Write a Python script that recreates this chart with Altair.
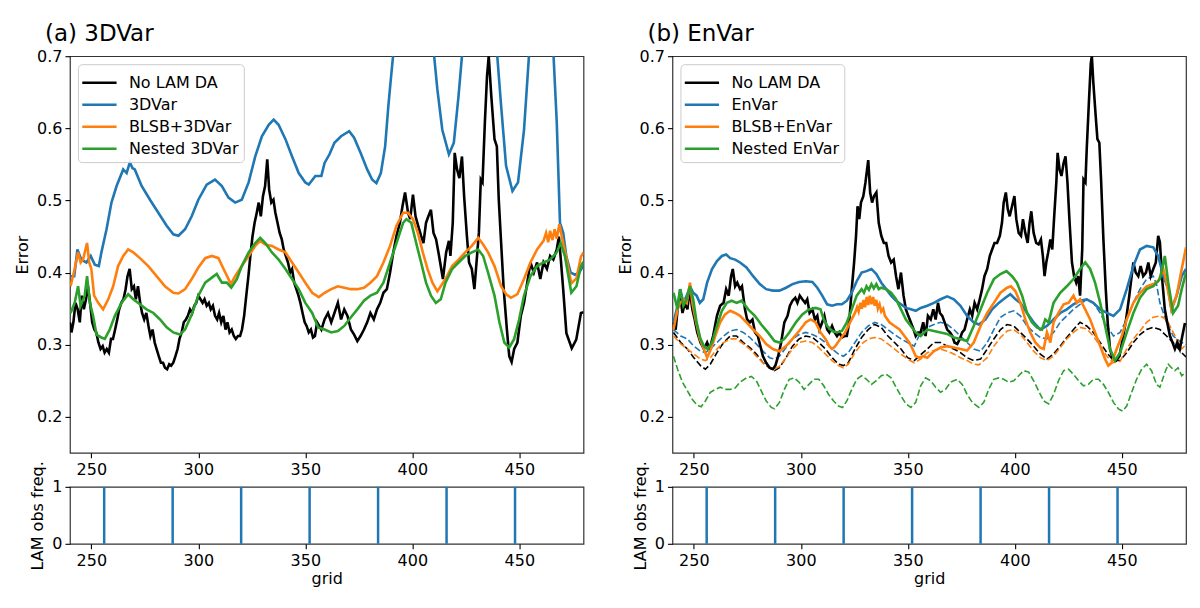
import altair as alt
import pandas as pd

# ---------------- data (grid, error) ----------------
NOLAM_A = [(240, .331), (240.7, .317), (241.6, .331), (242.6, .358), (243.6, .349), (244.6, .331), (245.5, .368),
           (246.5, .349), (247.5, .363), (248.4, .381), (249.4, .358), (250.4, .331), (251.4, .321), (252.3, .317),
           (253.3, .303), (254.3, .294), (255.3, .298), (256.2, .289), (257.2, .294), (258.2, .289), (259.2, .308),
           (260.1, .308), (261.1, .321), (262.1, .335), (263.0, .349), (264.0, .358), (265.0, .363), (266.0, .377),
           (266.9, .395), (267.9, .405), (268.9, .377), (269.9, .381), (270.8, .363), (271.8, .381), (272.8, .358),
           (273.7, .344), (274.7, .335), (275.7, .344), (276.7, .326), (277.6, .312), (278.6, .321), (279.6, .303),
           (280.5, .294), (281.5, .284), (282.5, .275), (283.5, .275), (284.4, .268), (285.4, .266), (286.4, .273),
           (287.3, .271), (288.3, .275), (289.3, .284), (290.3, .294), (291.2, .308), (292.2, .317), (293.2, .331),
           (294.2, .335), (295.1, .340), (296.1, .349), (297.1, .344), (298.1, .354), (299.0, .358), (300.0, .368),
           (301.0, .363), (302.0, .358), (302.9, .363), (303.9, .354), (304.9, .358), (305.8, .349), (306.8, .354),
           (307.8, .340), (308.8, .335), (309.7, .344), (310.7, .331), (311.7, .340), (312.7, .321), (313.6, .331),
           (314.6, .317), (315.6, .321), (316.6, .312), (317.5, .308), (318.5, .312), (319.5, .312), (320.4, .321),
           (321.4, .340), (322.4, .368), (323.4, .395), (324.3, .423), (325.3, .450), (326.3, .469), (327.3, .483),
           (328.2, .497), (329.2, .478), (330.2, .506), (331.2, .520), (332.2, .557), (333.1, .515), (334.1, .497),
           (335.1, .501), (336.0, .483), (337.0, .469), (338.0, .455), (339.0, .446), (339.9, .432), (340.9, .423),
           (341.9, .414), (342.9, .400), (343.8, .405), (344.8, .386), (345.8, .377), (346.8, .368), (347.7, .358),
           (348.7, .344), (349.7, .331), (350.6, .326), (351.6, .317), (352.6, .321), (353.6, .310), (354.5, .312),
           (355.5, .331), (357.5, .321), (359, .335), (360.6, .344), (362.1, .331), (363.6, .344), (365.2, .358),
           (366.7, .335), (368.2, .349), (369.7, .340), (371.3, .321), (372.8, .314), (374.3, .305), (375.8, .312),
           (377.4, .321), (378.9, .331), (380.4, .344), (382, .335), (383.5, .349), (385, .358), (386.5, .372),
           (388.1, .377), (389.6, .400), (391.1, .428), (392.6, .451), (394.2, .469), (395.4, .492), (396.6, .511),
           (398, .483), (399, .474), (400.3, .508), (401.5, .478), (402.7, .465), (404.1, .451), (405.2, .441),
           (406.4, .469), (407.5, .478), (408.7, .487), (409.9, .455), (411.1, .446), (412.5, .423), (414.3, .391),
           (415.8, .428), (417.1, .444), (417.8, .423), (418.9, .469), (419.8, .566), (420.9, .543), (422, .531),
           (423.2, .561), (424.2, .506), (425.5, .451), (426.5, .414), (427.8, .405), (429, .377), (430, .414),
           (431.1, .455), (432, .529), (432.8, .525), (433.9, .608), (434.9, .672), (435.7, .700), (436.9, .645),
           (438.4, .585), (439.5, .575), (440.4, .501), (441.5, .441), (442.7, .377), (444.2, .321), (445.3, .284),
           (446.4, .276), (447.6, .294), (449.1, .303), (450.7, .340), (452.2, .358), (453.7, .386), (455.2, .414),
           (456.8, .400), (458.3, .414), (459.8, .391), (461.3, .414), (462.9, .405), (464.4, .423), (465.9, .418),
           (467.5, .432), (468.5, .450), (469.5, .414), (470.5, .377), (472, .316), (474.5, .295), (476.6, .307),
           (478.8, .344), (480, .345)]

VAR3D_A = [(240.3, .395), (242, .395), (243.5, .432), (245.3, .418), (247.7, .414), (249.7, .423), (251.6, .411),
           (253.5, .409), (254.7, .428), (257.1, .460), (259.4, .497), (261.8, .520), (264.9, .543), (266.5, .538),
           (268, .553), (269.2, .545), (270.3, .543), (273.5, .520), (277.4, .501), (281.3, .483), (285.2, .465),
           (288.3, .453), (290.7, .451), (293.8, .460), (296.9, .478), (300, .501), (303.9, .522), (307.8, .529),
           (311, .520), (314.1, .504), (317.2, .497), (320.3, .501), (323.5, .525), (326.6, .561), (329.7, .589),
           (332.9, .605), (335.2, .612), (337.5, .605), (340.7, .585), (343.8, .561), (346.9, .538), (350, .525),
           (351.6, .522), (354.7, .534), (357.5, .534), (359, .552), (361.3, .564), (363.6, .580), (366.7, .589),
           (370.5, .596), (372.8, .587), (375.8, .566), (378.9, .543), (381.2, .529), (383.2, .524), (385.3, .538),
           (387.3, .575), (388.8, .631), (390.4, .682), (392, .730), (396, .850), (400, .900), (405, .840),
           (408.5, .750), (410.2, .700), (411.7, .654), (414, .598), (417.1, .564), (419.4, .580), (421.6, .645),
           (423.2, .700), (426, .780), (431, .830), (436, .780), (439.7, .700), (441.5, .631), (443.8, .548),
           (446.8, .513), (449.4, .525), (452.2, .598), (454.5, .700), (457, .770), (460.5, .800), (464, .770),
           (466, .700), (467.5, .608), (469, .469), (470.5, .455), (472, .422), (474, .400), (476, .397),
           (478, .400), (480, .410)]

BLSB_A = [(240.3, .381), (242.2, .405), (243.8, .428), (245, .414), (246.1, .418), (248, .441), (249, .414),
          (250, .405), (251.3, .368), (253.2, .358), (255.5, .349), (257.9, .363), (260.2, .381), (262.5, .409),
          (264.9, .423), (267.2, .432), (269.6, .428), (272.7, .420), (276.6, .409), (280.5, .395), (284.4, .381),
          (288.3, .372), (290.7, .371), (293.8, .377), (296.9, .391), (300, .407), (303.2, .420), (306.3, .423),
          (309.4, .420), (311.8, .405), (314.1, .391), (315.2, .384), (317.2, .395), (320.3, .409), (323.5, .423),
          (326.6, .437), (328.9, .444), (331.3, .439), (334.4, .437), (337.5, .432), (340.7, .428), (343.8, .414),
          (346.9, .400), (350, .386), (353.2, .372), (356.3, .366), (359, .372), (362.1, .377), (365.2, .381),
          (368.2, .379), (371.3, .377), (374.3, .377), (377.4, .379), (380.4, .386), (383.5, .395), (386.5, .414),
          (389.6, .437), (392.6, .465), (395.7, .483), (398, .483), (400.3, .474), (402.6, .455), (404.9, .428),
          (407.1, .405), (409.4, .386), (411.7, .374), (413.3, .381), (415.5, .391), (418.6, .409), (421.6, .418),
          (424.7, .428), (427.8, .437), (430.8, .448), (433.1, .439), (435.4, .428), (438.4, .409), (441.5, .381),
          (443.8, .370), (446.1, .365), (449.1, .370), (452.2, .391), (455.2, .414), (458.3, .432), (461.3, .444),
          (462.5, .455), (463.5, .442), (464.4, .458), (465.5, .445), (466.5, .460), (467.5, .447), (468.7, .467),
          (470.5, .441), (471.9, .422), (474.3, .385), (476.7, .392), (478.8, .422), (480, .428)]

NESTED_A = [(240.3, .344), (242.2, .358), (243.8, .381), (245, .354), (246.9, .368), (248, .395), (249.3, .358),
            (250.8, .340), (252.4, .314), (254.7, .310), (256.3, .308), (258.6, .321), (261, .340), (264.1, .358),
            (267.2, .370), (269.6, .363), (272.7, .356), (275.8, .349), (279, .344), (282.1, .335), (285.2, .324),
            (288.3, .317), (291.4, .314), (293.8, .321), (296.9, .342), (300, .368), (303.2, .386), (306.3, .393),
            (308.6, .398), (311, .386), (313.3, .386), (315.4, .379), (318, .391), (320.3, .409), (323.5, .428),
            (326.6, .441), (328.9, .448), (331.3, .441), (334.4, .428), (337.5, .418), (340.7, .405), (343.8, .391),
            (346.9, .377), (350, .358), (353.2, .344), (356, .324), (359, .321), (362.1, .317), (365.2, .319),
            (368.2, .326), (371.3, .338), (374.3, .349), (377.4, .361), (380.4, .368), (383.5, .372), (386.5, .386),
            (389.6, .414), (392.6, .441), (395.7, .469), (397.2, .474), (399.5, .469), (401.8, .441), (404.1, .414),
            (406.4, .386), (408.7, .368), (411, .358), (413.3, .363), (415.5, .386), (418.6, .405), (421.6, .414),
            (424.7, .423), (427.8, .428), (430.8, .432), (433.1, .423), (435.4, .400), (438.4, .368), (440.7, .331),
            (443, .303), (445.3, .296), (447.6, .308), (449.9, .335), (452.2, .368), (455.2, .395), (458.3, .409),
            (461.3, .414), (464.4, .418), (467.5, .428), (469.3, .441), (471.3, .423), (474.3, .372), (476.7, .381),
            (478.8, .409), (480, .415)]

NOLAM_B = [(240.5, .331), (241.5, .321), (242.4, .349), (243.6, .368), (244.7, .344), (245.8, .358), (247, .349),
           (248, .377), (249.3, .349), (250.4, .335), (251.6, .317), (253.1, .303), (254.7, .294), (256.2, .303),
           (257.4, .294), (259, .312), (260.8, .340), (262.3, .354), (263.9, .358), (265.1, .377), (266.3, .368),
           (267.4, .395), (268.2, .405), (269.3, .381), (270.3, .386), (271.6, .377), (272.5, .381), (273.9, .349),
           (274.9, .335), (276.2, .331), (277.4, .335), (278.6, .317), (279.9, .312), (281.1, .298), (282.3, .284),
           (283.8, .275), (285.4, .268), (286.9, .266), (288.1, .271), (289.4, .284), (290.8, .303), (292.3, .331),
           (293.8, .340), (294.9, .354), (296.1, .361), (297.4, .365), (298.4, .358), (299.5, .368), (300.7, .363),
           (302, .358), (303, .363), (304.1, .344), (305.4, .349), (306.6, .335), (307.7, .340), (308.7, .321),
           (310, .331), (311, .340), (312.3, .321), (313.3, .317), (314.6, .326), (315.8, .317), (316.9, .312),
           (318, .317), (319.2, .310), (320.4, .312), (321.5, .312), (322.6, .331), (323.8, .377), (324.9, .414),
           (325.8, .451), (326.5, .492), (327.3, .474), (328.1, .497), (329.2, .506), (330.2, .525), (331.5, .556),
           (332.4, .511), (333.3, .497), (334.2, .506), (335.3, .511), (336.4, .469), (337.6, .451), (338.8, .441),
           (339.9, .441), (341, .423), (342.2, .414), (343.4, .418), (344.5, .395), (345.6, .377), (346.8, .400),
           (348, .368), (349.1, .349), (350.2, .340), (351.4, .331), (352.7, .321), (353.7, .312), (354.8, .317),
           (356, .317), (357.2, .331), (358.3, .312), (359.4, .340), (360.7, .335), (361.9, .349), (363, .335),
           (364.1, .358), (365, .344), (366.1, .340), (367.2, .331), (368.4, .321), (369.7, .317), (370.8, .312),
           (371.8, .303), (373.1, .301), (374.3, .308), (375.4, .317), (376.5, .321), (377.7, .335), (379, .349),
           (380.1, .340), (381.2, .358), (382.4, .349), (383.6, .363), (384.7, .377), (385.8, .395), (387.1, .405),
           (388.3, .423), (389.4, .432), (390.5, .441), (391.7, .441), (393, .451), (394, .469), (394.8, .497),
           (395.8, .511), (396.7, .488), (397.6, .478), (398.7, .492), (399.8, .506), (400.7, .474), (401.8, .455),
           (402.9, .451), (403.8, .474), (404.9, .455), (406, .441), (406.9, .469), (407.7, .485), (408.8, .455),
           (410, .441), (411.1, .439), (412.2, .446), (413.1, .423), (413.9, .395), (414.7, .414), (415.6, .428),
           (416.6, .446), (417.5, .432), (418.4, .478), (419.4, .525), (420, .566), (420.9, .543), (421.8, .534),
           (422.8, .552), (423.7, .561), (424.6, .525), (425.6, .469), (426.7, .414), (427.7, .395), (428.7, .386),
           (429.6, .395), (430.5, .368), (431.5, .432), (432.1, .529), (433, .525), (433.6, .571), (434.6, .635),
           (435.5, .690), (436, .700), (436.7, .663), (437.8, .617), (438.6, .585), (439.5, .580), (440.3, .529),
           (441.4, .446), (442.5, .377), (443.4, .331), (444.5, .294), (445.8, .280), (447.3, .278), (448.9, .284),
           (450.4, .308), (452, .335), (453.5, .368), (454.6, .395), (455.4, .414), (456.5, .400), (457.7, .395),
           (458.8, .409), (460, .395), (461.3, .400), (462.4, .414), (463.5, .395), (464.7, .405), (465.9, .414),
           (467, .451), (467.8, .442), (469, .386), (470.1, .349), (471.2, .331), (472.5, .312), (473.7, .303),
           (474.8, .294), (475.9, .303), (477.1, .294), (478, .308), (479.5, .330)]

ENVAR_B = [(240.5, .331), (242.4, .354), (243.6, .377), (245.1, .358), (246.7, .368), (248.2, .381), (249.7, .372),
           (251.3, .368), (252.8, .358), (254.4, .363), (256.2, .386), (258.5, .405), (260.8, .416), (263.1, .423),
           (265.1, .425), (267, .420), (269.3, .418), (271.6, .414), (274.6, .407), (277.7, .395), (280.8, .384),
           (283.8, .377), (286.9, .375), (290, .375), (293.1, .379), (296.1, .384), (299.2, .387), (302.3, .388),
           (305.4, .387), (307.7, .379), (310, .368), (312.3, .356), (314.6, .354), (316.9, .356), (319.2, .356),
           (321.5, .361), (323.8, .372), (326.1, .388), (328.4, .400), (330.7, .402), (333, .405), (335.3, .398),
           (337.6, .386), (339.9, .377), (342.2, .368), (344.5, .361), (346.8, .356), (349.1, .351), (351.4, .349),
           (353.7, .347), (356, .351), (359.1, .354), (362.2, .358), (365.3, .363), (368.4, .367), (371.5, .363),
           (374.6, .354), (377.7, .340), (380.8, .331), (383.2, .328), (386.3, .335), (389.4, .349), (392.5, .358),
           (395.6, .365), (397.9, .370), (400.3, .363), (402.6, .358), (405.7, .344), (408.8, .331), (411.9, .321),
           (415, .326), (418.1, .335), (421.2, .344), (424.3, .349), (427.4, .356), (430.5, .361), (433.6, .363),
           (436.7, .358), (439.9, .349), (443, .344), (446.1, .340), (449.2, .349), (452.3, .377), (455.4, .409),
           (458.5, .432), (461.6, .437), (464.7, .435), (467, .423), (469.4, .395), (471.7, .377), (473.2, .349),
           (475.6, .368), (478, .395), (480, .405)]

BLSB_B = [(240.5, .321), (242.4, .349), (243.6, .358), (245.1, .363), (246.7, .358), (248.2, .386), (249.3, .358),
          (250.8, .335), (252.8, .308), (254.7, .294), (256.2, .282), (258, .294), (260, .312), (262.3, .331),
          (264.6, .342), (267, .347), (269.3, .344), (271.6, .340), (274.6, .331), (277.7, .321), (280.8, .312),
          (283.8, .301), (286.9, .294), (290, .291), (293.1, .298), (296.1, .308), (299.2, .319), (302.3, .331),
          (304.6, .335), (306.9, .331), (309.2, .317), (311.5, .308), (313.3, .298), (314.6, .294), (316.1, .298),
          (318.4, .308), (320.7, .317), (323, .331), (325.3, .344), (326.3, .352), (327, .346), (327.8, .358),
          (328.5, .350), (329.3, .362), (330, .352), (330.8, .366), (331.5, .355), (332.2, .368), (333, .356),
          (333.8, .366), (334.5, .354), (335.3, .362), (336, .350), (336.8, .356), (337.6, .346), (338.5, .350),
          (339.3, .340), (341.4, .331), (343.8, .326), (346.1, .321), (348.4, .312), (350.7, .303), (352.2, .294),
          (353.7, .284), (355.3, .282), (357, .284), (359.1, .282), (362.2, .291), (365.3, .296), (368.4, .298),
          (371.5, .296), (374.6, .294), (377.7, .292), (380.8, .303), (384, .326), (387.1, .344), (390.2, .358),
          (393.3, .372), (396.4, .379), (398.2, .381), (400.3, .374), (402.6, .358), (404.9, .335), (407.2, .317),
          (409.6, .303), (411.9, .296), (413.5, .294), (415, .317), (416.6, .303), (418.1, .331), (420.4, .344),
          (422.8, .356), (425.1, .358), (427.4, .368), (429, .358), (430.5, .363), (432.9, .349), (435.2, .335),
          (437.5, .317), (439.9, .298), (442.2, .280), (443.7, .271), (445.3, .275), (447.6, .294), (450, .312),
          (452.3, .335), (455.4, .358), (458.5, .372), (461.6, .381), (464.7, .384), (467, .388), (469.4, .405),
          (470.9, .386), (473.2, .349), (475.6, .368), (478, .405), (480, .435)]

NESTED_B = [(240.5, .372), (242.4, .349), (243.6, .377), (245.1, .354), (246.7, .363), (248.2, .381), (249.7, .363),
            (251.3, .331), (253.1, .308), (254.7, .298), (256.5, .294), (258.5, .303), (260.8, .326), (263.1, .347),
            (265.4, .358), (267.7, .361), (270, .358), (272.3, .361), (275.4, .349), (278.5, .340), (281.5, .328),
            (284.6, .317), (287.7, .305), (290, .303), (292.3, .308), (294.6, .317), (297.7, .331), (300.7, .342),
            (303.8, .349), (306.9, .351), (309.2, .349), (310.7, .335), (312.3, .326), (314.6, .319), (316.9, .317),
            (319.2, .319), (321.5, .331), (323.8, .349), (326.1, .368), (328.4, .377), (329.5, .372), (330.7, .381),
            (331.8, .376), (333, .384), (334.1, .378), (335.3, .384), (336.4, .377), (337.6, .379), (339.9, .377),
            (342.2, .372), (344.5, .363), (346.8, .349), (349.1, .335), (351.4, .326), (353.7, .317), (356, .312),
            (359.1, .321), (362.2, .319), (365.3, .317), (368.4, .315), (371.5, .310), (374.6, .308), (377.7, .305),
            (380.8, .326), (384, .349), (387.1, .372), (390.2, .391), (393.3, .398), (396.1, .402), (398.7, .395),
            (401, .386), (403.4, .368), (405.7, .344), (408, .331), (410.3, .324), (412.7, .321), (414.2, .335),
            (415.8, .331), (418.1, .358), (421.2, .372), (424.3, .381), (427.4, .391), (430.5, .405), (432.9, .414),
            (435.2, .405), (437.5, .386), (439.9, .358), (442.2, .326), (444.5, .294), (446.8, .278), (449.2, .289),
            (452.3, .317), (455.4, .344), (458.5, .365), (461.6, .377), (464.7, .381), (467.8, .391), (470.1, .423),
            (471.7, .386), (474, .344), (476.3, .354), (478, .377), (480, .400)]

NOLAM_SPREAD_B = [(240.5, .317), (243.9, .303), (247, .294), (250, .282), (253.1, .271), (255.4, .266), (257.7, .273),
                  (260.8, .289), (263.9, .303), (267, .312), (270, .312), (273.1, .303), (276.2, .296), (279.2, .287),
                  (282.3, .275), (285.4, .268), (287.7, .264), (290, .268), (293.1, .282), (296.1, .298), (299.2, .308),
                  (302.3, .312), (305.4, .310), (308.4, .303), (311.5, .294), (314.6, .282), (317.6, .273),
                  (319.9, .271), (322.2, .275), (325.3, .294), (328.4, .310), (331.5, .321), (334.5, .328),
                  (337.6, .324), (340.7, .312), (343.8, .303), (346.8, .294), (349.9, .282), (353, .278), (356, .286),
                  (359.1, .294), (362.2, .303), (365.3, .303), (368.4, .298), (371.5, .294), (374.6, .289),
                  (377.7, .282), (380.8, .278), (384, .280), (387.1, .294), (390.2, .308), (393.3, .321),
                  (396.4, .328), (399.5, .326), (402.6, .317), (405.7, .308), (408.8, .298), (411.9, .287), (415, .280),
                  (418.1, .287), (421.2, .298), (424.3, .310), (427.4, .321), (430.5, .331), (433.6, .326),
                  (436.7, .317), (439.9, .303), (443, .289), (446.1, .278), (449.2, .278), (452.3, .289),
                  (455.4, .303), (458.5, .314), (461.6, .321), (464.7, .324), (467.8, .321), (470.9, .312),
                  (474, .303), (478, .289), (480, .283)]

ENVAR_SPREAD_B = [(240.5, .321), (243.9, .312), (247, .308), (250, .298), (253.1, .291), (255.4, .289), (257.7, .294),
                  (260.8, .303), (263.9, .312), (267, .319), (270, .321), (273.1, .317), (276.2, .310), (279.2, .301),
                  (282.3, .291), (285.4, .282), (287.7, .280), (290, .284), (293.1, .296), (296.1, .308),
                  (299.2, .314), (302.3, .317), (305.4, .314), (308.4, .310), (311.5, .303), (314.6, .294),
                  (317.6, .287), (319.9, .284), (322.2, .289), (325.3, .303), (328.4, .317), (331.5, .326),
                  (334.5, .331), (337.6, .328), (340.7, .321), (343.8, .314), (346.8, .308), (349.9, .303),
                  (353, .298), (356, .317), (359.1, .324), (362.2, .328), (365.3, .331), (368.4, .328), (371.5, .321),
                  (374.6, .312), (377.7, .303), (380.8, .294), (384, .291), (387.1, .303), (390.2, .321),
                  (393.3, .338), (396.4, .344), (399.5, .347), (402.6, .340), (405.7, .326), (408.8, .317),
                  (411.9, .310), (415, .308), (418.1, .317), (421.2, .331), (424.3, .340), (427.4, .349),
                  (430.5, .356), (433.6, .363), (436.7, .358), (439.9, .344), (443, .326), (446.1, .312),
                  (449.2, .317), (452.3, .335), (455.4, .358), (458.5, .377), (461.6, .391), (464.7, .395),
                  (466.2, .384), (467.8, .358), (470.9, .331), (474, .312), (478, .303), (480, .300)]

BLSB_SPREAD_B = [(240.5, .312), (243.9, .301), (247, .294), (250, .287), (253.1, .280), (255.4, .278), (257.7, .282),
                 (260.8, .294), (263.9, .303), (267, .308), (270, .308), (273.1, .301), (276.2, .294), (279.2, .284),
                 (282.3, .275), (285.4, .268), (287.7, .266), (290, .270), (293.1, .282), (296.1, .294),
                 (299.2, .303), (302.3, .305), (305.4, .303), (308.4, .296), (311.5, .287), (314.6, .278),
                 (317.6, .271), (319.9, .268), (322.2, .273), (325.3, .289), (328.4, .301), (331.5, .308),
                 (334.5, .310), (337.6, .308), (340.7, .301), (343.8, .294), (346.8, .287), (349.9, .280),
                 (353, .275), (356, .280), (359.1, .289), (362.2, .292), (365.3, .294), (368.4, .291), (371.5, .287),
                 (374.6, .282), (377.7, .278), (380.8, .273), (383.2, .272), (387.1, .282), (390.2, .298),
                 (393.3, .310), (396.4, .319), (399.5, .321), (402.6, .314), (405.7, .303), (408.8, .291),
                 (411.9, .282), (415, .278), (418.1, .284), (421.2, .296), (424.3, .308), (427.4, .317),
                 (430.5, .324), (433.6, .322), (436.7, .312), (439.9, .298), (443, .284), (446.1, .275),
                 (449.2, .277), (452.3, .294), (455.4, .308), (458.5, .319), (461.6, .331), (464.7, .338),
                 (467.8, .340), (470.9, .335), (474, .317), (478, .294), (480, .300)]

NESTED_SPREAD_B = [(240.5, .284), (242.4, .266), (244.7, .248), (247, .236), (249.3, .224), (251.6, .216),
                   (253.4, .214), (255.4, .222), (257.7, .234), (260, .238), (262.3, .241), (264.6, .238),
                   (267, .238), (269.3, .240), (271.6, .248), (274.6, .254), (276.9, .256), (279.2, .250),
                   (281.5, .236), (283.8, .222), (286.2, .213), (287.7, .211), (290, .220), (292.3, .238),
                   (294.6, .252), (296.9, .254), (299.2, .248), (301.5, .238), (303.8, .245), (306.1, .252),
                   (308.4, .252), (310.7, .243), (313, .231), (315.3, .222), (317.6, .215), (319.5, .213),
                   (321.5, .222), (323.8, .238), (326.1, .252), (328.4, .257), (330.7, .252), (333, .245),
                   (335.3, .250), (337.6, .257), (339.9, .259), (342.2, .254), (344.5, .241), (346.8, .229),
                   (349.1, .218), (351.4, .213), (353.7, .220), (356, .243), (358.3, .254), (360.7, .250),
                   (363, .241), (365.3, .234), (367.6, .238), (370, .248), (373.1, .252), (375.4, .245),
                   (377.7, .231), (380.1, .220), (383.2, .213), (385.5, .220), (387.8, .238), (390.2, .252),
                   (392.5, .254), (394.8, .252), (397.1, .248), (399.5, .250), (401.8, .257), (404.1, .264),
                   (406.5, .262), (408.8, .250), (411.1, .236), (413.5, .222), (415.8, .218), (418.1, .231),
                   (420.4, .250), (422.8, .264), (425.1, .266), (427.4, .259), (429.8, .250), (432.1, .243),
                   (434.4, .245), (436.7, .252), (439.1, .252), (441.4, .245), (443.7, .234), (446.1, .220),
                   (448.4, .211), (450.4, .208), (452.3, .215), (454.6, .234), (456.9, .252), (459.3, .266),
                   (461.6, .273), (463.9, .264), (466.2, .245), (467.8, .241), (470.1, .261), (471.7, .273),
                   (473.2, .268), (474.8, .264), (476.3, .268), (478, .257), (480, .262)]

OBS_GRID = [256, 288, 320, 352, 384, 416, 448]
OBS_FREQ = [1, 1, 1, 1, 1, 1, 1]

X_TICKS = [250, 300, 350, 400, 450]
Y_TICKS = [0.2, 0.3, 0.4, 0.5, 0.6, 0.7]
COLORS = ["#000000", "#1f77b4", "#ff7f0e", "#2ca02c"]

NAMES_A = ["No LAM DA", "3DVar", "BLSB+3DVar", "Nested 3DVar"]
NAMES_B = ["No LAM DA", "EnVar", "BLSB+EnVar", "Nested EnVar"]

FONT = "DejaVu Sans"
W, H_MAIN, H_FREQ = 514, 397, 57


def to_df(names, series):
    rows = []
    for name, pts in zip(names, series):
        for i, (g, e) in enumerate(pts):
            rows.append({"grid": g, "error": e, "series": name, "i": i})
    return pd.DataFrame(rows)


def x_enc(title=None):
    return alt.X("grid:Q", scale=alt.Scale(domain=[240, 480], nice=False, zero=False),
                 axis=alt.Axis(values=X_TICKS, title=title, format="d"))


def y_enc():
    return alt.Y("error:Q", scale=alt.Scale(domain=[0.15, 0.7], nice=False, zero=False),
                 axis=alt.Axis(values=Y_TICKS, format=".1f", title="Error"))


def main_panel(names, solid, dashed, title):
    cscale = alt.Scale(domain=names, range=COLORS)
    legend = alt.Legend(title=None, orient="top-left", offset=8, symbolType="M-1.4,0H1.4", symbolSize=600,
                        symbolStrokeWidth=2.5, symbolOffset=3, labelFontSize=16, labelFont=FONT,
                        labelColor="black", fillColor="rgba(255,255,255,0.85)", strokeColor="#cccccc",
                        cornerRadius=4, padding=5, rowPadding=0, labelOffset=16, labelLimit=0)
    solid_chart = alt.Chart(to_df(names, solid)).mark_line(strokeWidth=2.6, clip=True).encode(
        x=x_enc(), y=y_enc(),
        color=alt.Color("series:N", scale=cscale, legend=legend, sort=names),
        order="i:Q")
    layers = []
    if dashed:
        dashed_chart = alt.Chart(to_df(names, dashed)).mark_line(
            strokeWidth=1.6, strokeDash=[6.5, 2.8], clip=True).encode(
            x=x_enc(), y=y_enc(),
            color=alt.Color("series:N", scale=cscale, legend=None, sort=names),
            order="i:Q")
        layers.append(dashed_chart)
    layers.append(solid_chart)
    ch = alt.layer(*layers)
    if dashed:
        ch = ch.resolve_legend(color="independent")
    return ch.properties(
        width=W, height=H_MAIN,
        title=alt.TitleParams(title, anchor="start", frame="group", fontSize=23, font=FONT,
                              fontWeight="normal", color="black", dx=-25, offset=2))


def freq_panel():
    df = pd.DataFrame({"grid": OBS_GRID, "freq": OBS_FREQ})
    return alt.Chart(df).mark_rule(color="#1f77b4", strokeWidth=2.5).encode(
        x=x_enc("grid"),
        y=alt.Y("freq:Q", scale=alt.Scale(domain=[0, 1], nice=False),
                axis=alt.Axis(values=[0, 1], format="d", title="LAM obs freq.")),
        y2=alt.datum(0),
    ).properties(width=W, height=H_FREQ)


left = alt.vconcat(
    main_panel(NAMES_A, [NOLAM_A, VAR3D_A, BLSB_A, NESTED_A], None, "(a) 3DVar"),
    freq_panel(), spacing=34, bounds="flush")
right = alt.vconcat(
    main_panel(NAMES_B, [NOLAM_B, ENVAR_B, BLSB_B, NESTED_B],
               [NOLAM_SPREAD_B, ENVAR_SPREAD_B, BLSB_SPREAD_B, NESTED_SPREAD_B], "(b) EnVar"),
    freq_panel(), spacing=34, bounds="flush")

chart = alt.hconcat(left, right, spacing=31).resolve_scale(
    color="independent"
).resolve_legend(
    color="independent"
).properties(
    padding={"left": 5, "top": 14, "right": 5, "bottom": 5}
).configure_view(
    stroke="#333333", strokeWidth=1.2
).configure_axis(
    grid=False, domain=False, ticks=True, tickSize=5, tickColor="#000000", tickWidth=1.1,
    labelFont=FONT, labelFontSize=16, labelColor="#000000", labelPadding=3,
    titleFont=FONT, titleFontSize=16, titleFontWeight="normal", titleColor="#000000", titlePadding=6,
).configure_axisX(labelPadding=4, titlePadding=2)

chart.save("out.html", embed_options={"renderer": "svg", "actions": False})
